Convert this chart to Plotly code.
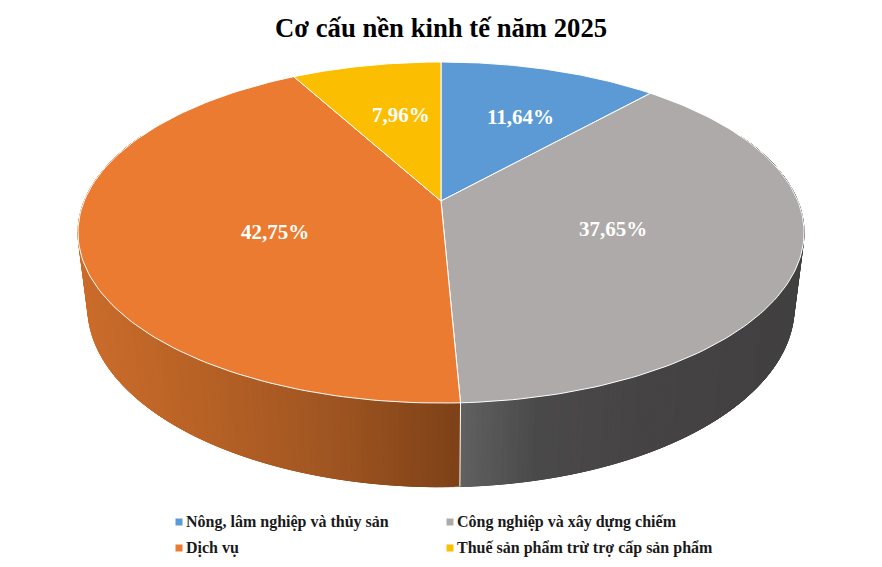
import numpy as np
import plotly.graph_objects as go

title = "Cơ cấu nền kinh tế năm 2025"
categories = ["Nông, lâm nghiệp và thủy sản", "Công nghiệp và xây dựng chiếm",
              "Dịch vụ", "Thuế sản phẩm trừ trợ cấp sản phẩm"]
values = [11.64, 37.65, 42.75, 7.96]
colors = ["#5b9ad5", "#aeaaa9", "#eb7b30", "#fcbe00"]

# label and legend placement, in page pixels
label_x = [520, 613, 275, 401]
label_y = [117, 229, 232, 115]
legend_x = [179, 450, 179, 450]
legend_y = [522, 522, 548, 548]
legend_text_x = [186, 457, 186, 457]
legend_text_y = [523, 523, 549, 549]

# perspective of the pie, fitted to the picture
CX, CY = 441, 201
A, B, K = 356.8, 164.7, 0.1848
DEPTH, DEPTH_W = 76, 0.027


def project(theta, r=1.0, z=0.0):
    px = r * np.sin(theta)
    py = -r * np.cos(theta)
    w = 1 - K * py + DEPTH_W * z
    return CX + A * px / w, CY + (B * py + DEPTH * z) / w


def side_color(i, x):
    # side walls get a horizontal gradient like the Excel 3D pie
    if i == 1:
        stops = [461, 540, 640, 805]
        r = [98, 75, 71, 66]
        g = [98, 74, 68, 64]
        b = [99, 75, 69, 65]
    else:
        stops = [78, 200, 330, 461]
        r = [203, 184, 160, 126]
        g = [109, 98, 86, 66]
        b = [44, 38, 34, 24]
    return "rgb(%d,%d,%d)" % (np.interp(x, stops, r), np.interp(x, stops, g), np.interp(x, stops, b))


fig = go.Figure()

edges = np.cumsum([0] + values) / sum(values) * 2 * np.pi

# side walls, only the two big slices show at the front
for i in [1, 2]:
    start = max(edges[i], np.radians(65))
    end = min(edges[i + 1], np.radians(295))
    steps = np.linspace(start, end, 160)
    # each strip overlaps the next ones so no white shows through the seams
    for j in range(len(steps) - 1):
        t = np.linspace(steps[j], steps[min(j + 5, len(steps) - 1)], 6)
        xt, yt = project(t)
        xb, yb = project(t, z=1)
        xs = np.r_[xt, xb[::-1], xt[0]]
        ys = np.r_[yt, yb[::-1], yt[0]]
        c = side_color(i, project(steps[j])[0])
        fig.add_trace(go.Scatter(x=xs, y=ys, mode="lines", fill="toself", fillcolor=c,
                                 line=dict(color=c, width=0.5),
                                 hoverinfo="skip", showlegend=False))

# seam between the two walls
seam = edges[2]
sx0, sy0 = project(seam)
sx1, sy1 = project(seam, z=1)
fig.add_trace(go.Scatter(x=[sx0, sx1], y=[sy0, sy1], mode="lines", line=dict(color="white", width=1),
                         hoverinfo="skip", showlegend=False))

# top face
for i, name in enumerate(categories):
    t = np.linspace(edges[i], edges[i + 1], 120)
    x, y = project(t)
    fig.add_trace(go.Scatter(x=np.r_[CX, x, CX], y=np.r_[CY, y, CY], mode="lines", fill="toself",
                             fillcolor=colors[i], line=dict(color="white", width=1),
                             name=name, hoverinfo="name", showlegend=False))

# legend drawn by hand so it sits in two columns like the original
fig.add_trace(go.Scatter(x=legend_x, y=legend_y, mode="markers",
                         marker=dict(symbol="square", size=7, color=colors),
                         hoverinfo="skip", showlegend=False))
fig.add_trace(go.Scatter(x=legend_text_x, y=legend_text_y, mode="text", text=categories,
                         textposition="middle right",
                         textfont=dict(family="Liberation Serif", size=16, color="#1a1a1a", weight="bold"),
                         hoverinfo="skip", showlegend=False))

for i, v in enumerate(values):
    fig.add_annotation(x=label_x[i], y=label_y[i], text=f"{v:.2f}%".replace(".", ","), showarrow=False,
                       font=dict(family="Liberation Serif", size=21, color="white", weight="bold"))

fig.add_annotation(x=441, y=27.5, text=title, showarrow=False,
                   font=dict(family="Liberation Serif", size=26.7, color="black", weight="bold"))

fig.update_layout(
    width=882, height=567,
    margin=dict(l=0, r=0, t=0, b=0),
    paper_bgcolor="white", plot_bgcolor="white",
    xaxis=dict(range=[0, 882], visible=False, fixedrange=True),
    yaxis=dict(range=[567, 0], visible=False, fixedrange=True),
)

fig.write_html("out.html", config={"displayModeBar": False},
               post_script="document.body.style.margin='0';")
